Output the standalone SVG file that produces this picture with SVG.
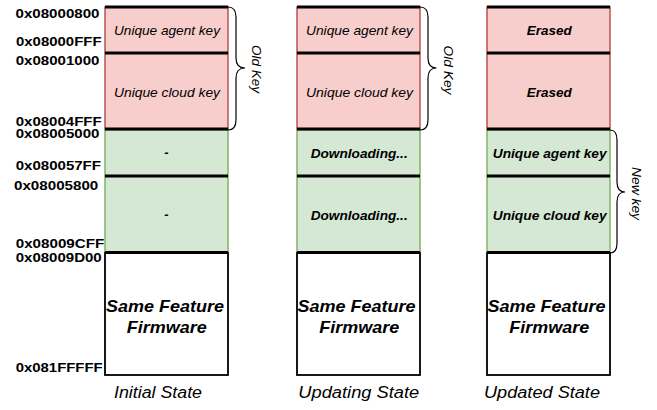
<svg xmlns="http://www.w3.org/2000/svg" width="657" height="410" viewBox="0 0 657 410">
<style>
text{font-family:"Liberation Sans",Arial,Helvetica,sans-serif;fill:#000}
.addr{font-size:13.5px;font-weight:bold}
.lbl{font-size:13px;font-style:italic}
.blbl{font-size:13px;font-style:italic;font-weight:bold}
.fw{font-size:16.5px;font-style:italic;font-weight:bold}
.state{font-size:16px;font-style:italic}
.brl{font-size:13.5px;font-style:italic}
.red{fill:#f8cecc;stroke:#b85450;stroke-width:1.5}
.green{fill:#d5e8d4;stroke:#82b366;stroke-width:1.5}
.white{fill:#ffffff;stroke:#000000;stroke-width:1.8}
.sep{stroke:#000000;stroke-width:3;fill:none}
.brace{fill:none;stroke:#000000;stroke-width:1.2}
</style>

<g id="addresses">
<text class="addr" x="15.5" y="17.5" textLength="84" lengthAdjust="spacingAndGlyphs">0x08000800</text>
<text class="addr" x="16" y="45.5" textLength="85.5" lengthAdjust="spacingAndGlyphs">0x08000FFF</text>
<text class="addr" x="15.7" y="65" textLength="83.7" lengthAdjust="spacingAndGlyphs">0x08001000</text>
<text class="addr" x="15.7" y="125.5" textLength="86" lengthAdjust="spacingAndGlyphs">0x08004FFF</text>
<text class="addr" x="15.7" y="138" textLength="83.7" lengthAdjust="spacingAndGlyphs">0x08005000</text>
<text class="addr" x="15.7" y="170" textLength="85.3" lengthAdjust="spacingAndGlyphs">0x080057FF</text>
<text class="addr" x="14" y="189.5" textLength="84.3" lengthAdjust="spacingAndGlyphs">0x08005800</text>
<text class="addr" x="15.7" y="248" textLength="88.6" lengthAdjust="spacingAndGlyphs">0x08009CFF</text>
<text class="addr" x="15.7" y="261.5" textLength="86" lengthAdjust="spacingAndGlyphs">0x08009D00</text>
<text class="addr" x="15.7" y="371.5" textLength="87" lengthAdjust="spacingAndGlyphs">0x081FFFFF</text>
</g>

<g id="initial-state">
<rect class="red" x="105" y="7" width="123" height="123"/>
<rect class="green" x="105" y="130" width="123" height="123"/>
<rect class="white" x="105" y="253" width="123" height="122"/>
<line class="sep" x1="105" y1="7" x2="228" y2="7"/>
<line class="sep" x1="105" y1="53" x2="228" y2="53"/>
<line class="sep" x1="105" y1="129" x2="228" y2="129"/>
<line class="sep" x1="105" y1="176" x2="228" y2="176"/>
<line class="sep" x1="105" y1="252.5" x2="228" y2="252.5"/>
<text class="lbl" x="114" y="35" textLength="106" lengthAdjust="spacingAndGlyphs">Unique agent key</text>
<text class="lbl" x="114" y="96.5" textLength="106" lengthAdjust="spacingAndGlyphs">Unique cloud key</text>
<text class="blbl" x="166.5" y="157" text-anchor="middle">-</text>
<text class="blbl" x="166.5" y="219" text-anchor="middle">-</text>
<text class="fw" x="106" y="312" textLength="118" lengthAdjust="spacingAndGlyphs">Same Feature</text>
<text class="fw" x="126.7" y="333" textLength="80" lengthAdjust="spacingAndGlyphs">Firmware</text>
<text class="state" x="114" y="398" textLength="88" lengthAdjust="spacingAndGlyphs">Initial State</text>
</g>

<g id="updating-state">
<rect class="red" x="297" y="7" width="123" height="123"/>
<rect class="green" x="297" y="130" width="123" height="123"/>
<rect class="white" x="297" y="253" width="123" height="122"/>
<line class="sep" x1="297" y1="7" x2="420" y2="7"/>
<line class="sep" x1="297" y1="53" x2="420" y2="53"/>
<line class="sep" x1="297" y1="129" x2="420" y2="129"/>
<line class="sep" x1="297" y1="176" x2="420" y2="176"/>
<line class="sep" x1="297" y1="252.5" x2="420" y2="252.5"/>
<text class="lbl" x="306" y="35" textLength="107" lengthAdjust="spacingAndGlyphs">Unique agent key</text>
<text class="lbl" x="306" y="96.5" textLength="107" lengthAdjust="spacingAndGlyphs">Unique cloud key</text>
<text class="blbl" x="310.7" y="158" textLength="97" lengthAdjust="spacingAndGlyphs">Downloading...</text>
<text class="blbl" x="310.7" y="220" textLength="97" lengthAdjust="spacingAndGlyphs">Downloading...</text>
<text class="fw" x="297.5" y="312" textLength="118" lengthAdjust="spacingAndGlyphs">Same Feature</text>
<text class="fw" x="319.3" y="333" textLength="80" lengthAdjust="spacingAndGlyphs">Firmware</text>
<text class="state" x="298.3" y="398" textLength="121" lengthAdjust="spacingAndGlyphs">Updating State</text>
</g>

<g id="updated-state">
<rect class="red" x="487" y="7" width="123" height="123"/>
<rect class="green" x="487" y="130" width="123" height="123"/>
<rect class="white" x="487" y="253" width="123" height="122"/>
<line class="sep" x1="487" y1="7" x2="610" y2="7"/>
<line class="sep" x1="487" y1="53" x2="610" y2="53"/>
<line class="sep" x1="487" y1="129" x2="610" y2="129"/>
<line class="sep" x1="487" y1="176" x2="610" y2="176"/>
<line class="sep" x1="487" y1="252.5" x2="610" y2="252.5"/>
<text class="blbl" x="526.7" y="35" textLength="45" lengthAdjust="spacingAndGlyphs">Erased</text>
<text class="blbl" x="526.7" y="96.5" textLength="45" lengthAdjust="spacingAndGlyphs">Erased</text>
<text class="blbl" x="492.7" y="158" textLength="114" lengthAdjust="spacingAndGlyphs">Unique agent key</text>
<text class="blbl" x="492.7" y="220" textLength="114" lengthAdjust="spacingAndGlyphs">Unique cloud key</text>
<text class="fw" x="487.5" y="312" textLength="118" lengthAdjust="spacingAndGlyphs">Same Feature</text>
<text class="fw" x="509.3" y="333" textLength="80" lengthAdjust="spacingAndGlyphs">Firmware</text>
<text class="state" x="484" y="398" textLength="116" lengthAdjust="spacingAndGlyphs">Updated State</text>
</g>

<g id="connectors">
<path class="brace" d="M228,7 Q236,7 236,17 L236,58 Q236,68 245,68 Q236,68 236,78 L236,120 Q236,130 228,130"/>
<path class="brace" d="M420,7 Q428,7 428,17 L428,58 Q428,68 436.5,68 Q428,68 428,78 L428,120 Q428,130 420,130"/>
<path class="brace" d="M610,130 Q617,130 617,140 L617,182 Q617,192 625,192 Q617,192 617,202 L617,243 Q617,253 610,253"/>
</g>

<g id="brace-labels">
<text class="brl" transform="translate(251.5,45) rotate(90)" textLength="48" lengthAdjust="spacingAndGlyphs">Old Key</text>
<text class="brl" transform="translate(443.5,45.5) rotate(90)" textLength="49" lengthAdjust="spacingAndGlyphs">Old Key</text>
<text class="brl" transform="translate(632,167) rotate(90)" textLength="53" lengthAdjust="spacingAndGlyphs">New key</text>
</g>
</svg>
